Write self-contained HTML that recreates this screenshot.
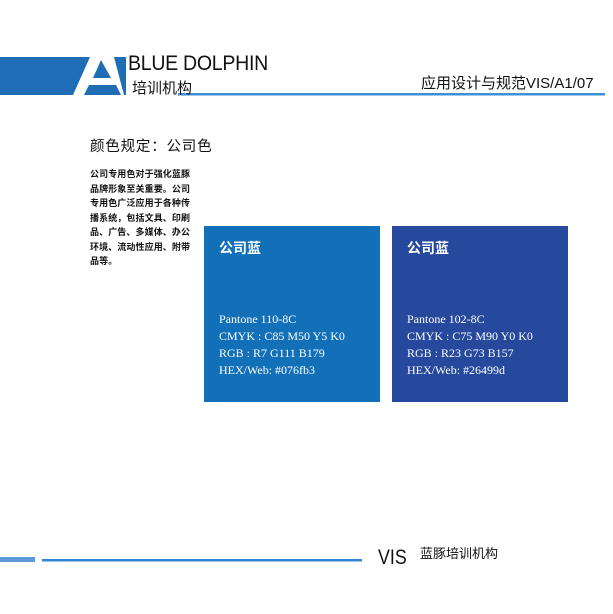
<!DOCTYPE html>
<html><head><meta charset="utf-8"><style>
body{margin:0;width:613px;height:614px;background:#fff;position:relative;overflow:hidden;font-family:"Liberation Sans","Noto Sans CJK SC",sans-serif;color:#111}
.a{position:absolute;white-space:nowrap}
.box{position:absolute;top:226px;width:176px;height:176px;color:#fff}
.box .t{position:absolute;left:15px;top:12px;font-size:14px;font-weight:bold}
.box .s{position:absolute;left:15px;top:85px;font-family:"Liberation Serif",serif;font-size:12px;line-height:17px}
</style></head><body>
<svg class="a" style="left:0;top:0" width="613" height="614">
<polygon points="0,57 90,57 73,95 0,95" fill="#1f6db5"/>
<polygon points="101,60 111,78 93,78" fill="#1f6db5"/>
<polygon points="89,85 116,85 121,95 84,95" fill="#1f6db5"/>
<polygon points="114,57 126,57 126,95 124,95" fill="#1f6db5"/>
<rect x="178" y="93" width="427" height="2.5" fill="#3d8fd8"/>
<rect x="0" y="557" width="35" height="5" fill="#5b9ad8"/>
<rect x="42" y="559" width="320" height="2.5" fill="#2e86d4"/>
</svg>
<div class="a" style="left:128px;top:52px;font-size:21px;letter-spacing:-0.3px;transform:scaleX(0.93);transform-origin:left">BLUE DOLPHIN</div>
<div class="a" style="left:132px;top:77px;font-size:15px">培训机构</div>
<div class="a" style="left:421px;top:72px;font-size:15px">应用设计与规范VIS/A1/07</div>
<div class="a" style="left:90px;top:135px;font-size:14.5px;letter-spacing:0.8px">颜色规定：公司色</div>
<div class="a" style="left:90px;top:167px;font-size:9px;line-height:14.5px;letter-spacing:0.1px;font-weight:bold">公司专用色对于强化蓝豚<br>品牌形象至关重要。公司<br>专用色广泛应用于各种传<br>播系统，包括文具、印刷<br>品、广告、多媒体、办公<br>环境、流动性应用、附带<br>品等。</div>
<div class="box" style="left:204px;background:#1270b8"><div class="t">公司蓝</div><div class="s">Pantone 110-8C<br>CMYK : C85 M50 Y5 K0<br>RGB : R7 G111 B179<br>HEX/Web: #076fb3</div></div>
<div class="box" style="left:392px;background:#26499d"><div class="t">公司蓝</div><div class="s">Pantone 102-8C<br>CMYK : C75 M90 Y0 K0<br>RGB : R23 G73 B157<br>HEX/Web: #26499d</div></div>
<div class="a" style="left:378px;top:546px;font-size:21px;transform:scaleX(0.85);transform-origin:left">VIS</div>
<div class="a" style="left:420px;top:543px;font-size:13px">蓝豚培训机构</div>
</body></html>
